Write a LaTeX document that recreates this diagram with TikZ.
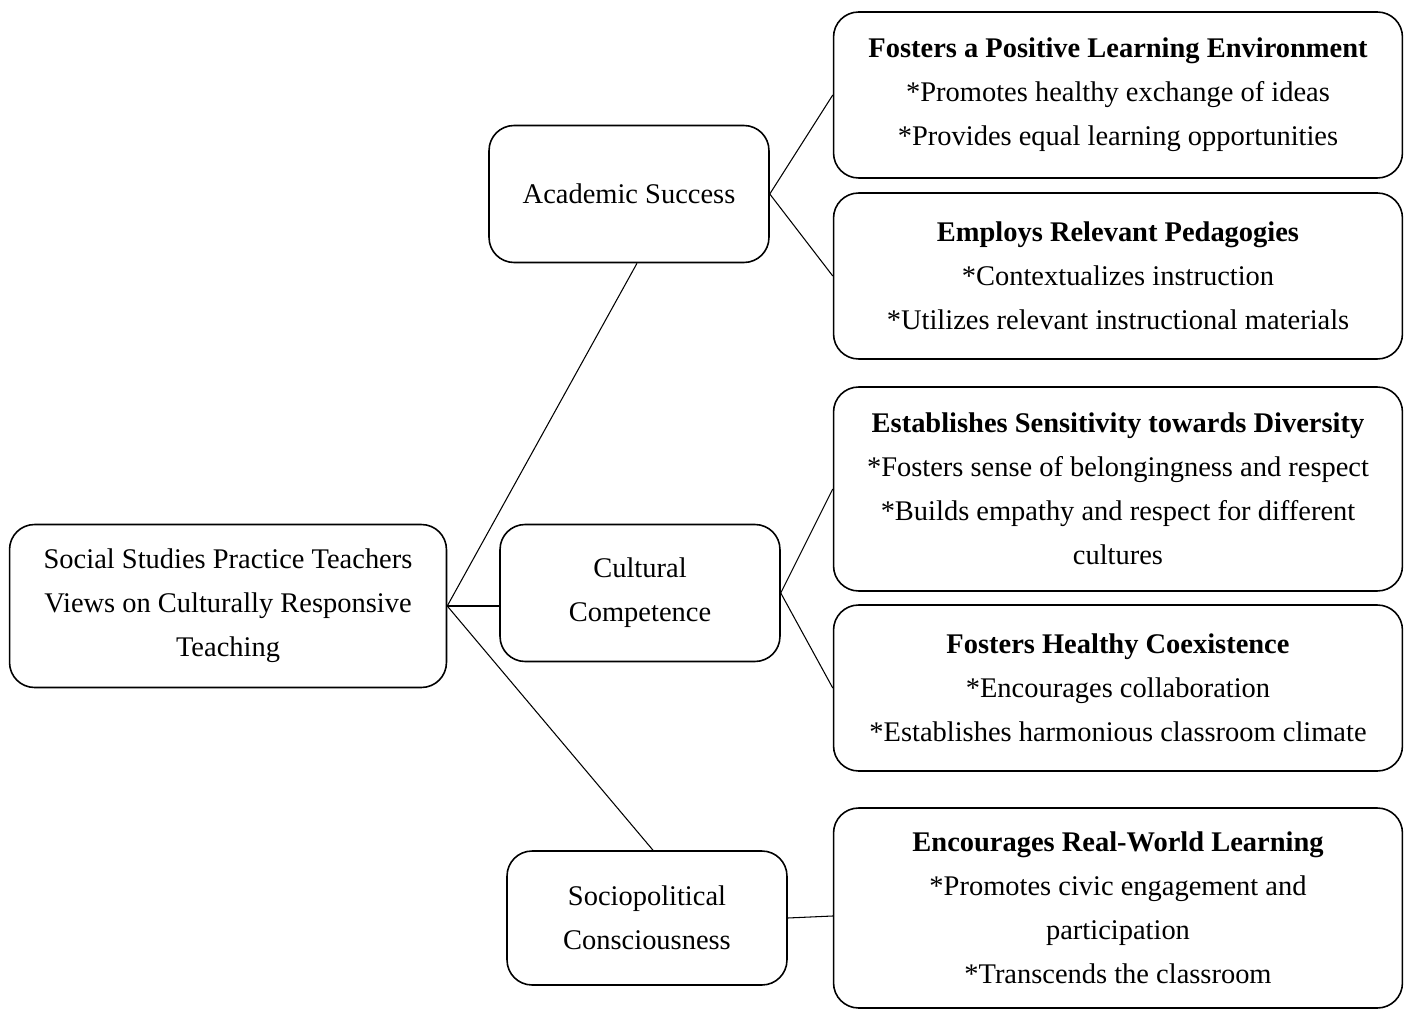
\documentclass[tikz,border=0pt]{standalone}
\usepackage{fontspec}
\setmainfont{Liberation Serif}

\begin{document}
\begin{tikzpicture}[x=0.02cm, y=-0.02cm,
    box/.style={draw, line width=0.9pt, rounded corners=0.5cm, align=center,
      font=\fontsize{16.2}{25}\selectfont, inner sep=0pt},
    midbox/.style={box, minimum width=5.6cm, minimum height=2.74cm},
    rightbox/.style={box, minimum width=11.38cm, minimum height=3.32cm},
    link/.style={line width=0.6pt}]
    \useasboundingbox (0,0) rectangle (1407,1010);

    % draw root node
    \node[box, minimum width=8.74cm, minimum height=3.26cm] (root) at (228,606)
      {Social Studies Practice Teachers\\Views on Culturally Responsive\\Teaching};

    % draw middle nodes
    \node[midbox] (academic) at (629,194) {Academic Success};
    \node[midbox] (cultural) at (640,593) {Cultural\\Competence};
    \node[midbox, minimum height=2.68cm] (sociopol) at (647,918) {Sociopolitical\\Consciousness};

    % draw right nodes
    \node[rightbox] (positive) at (1118,95)
      {\textbf{Fosters a Positive Learning Environment}\\*Promotes healthy exchange of ideas\\*Provides equal learning opportunities};
    \node[rightbox] (pedagogy) at (1118,276)
      {\textbf{Employs Relevant Pedagogies}\\*Contextualizes instruction\\*Utilizes relevant instructional materials};
    \node[rightbox, minimum height=4.08cm] (diversity) at (1118,489)
      {\textbf{Establishes Sensitivity towards Diversity}\\*Fosters sense of belongingness and respect\\*Builds empathy and respect for different\\cultures};
    \node[rightbox] (coexist) at (1118,688)
      {\textbf{Fosters Healthy Coexistence}\\*Encourages collaboration\\*Establishes harmonious classroom climate};
    \node[rightbox, minimum height=4.0cm] (realworld) at (1118,908)
      {\textbf{Encourages Real-World Learning}\\*Promotes civic engagement and\\participation\\*Transcends the classroom};

    % draw connectors
    \draw[link] (root.east) -- ([xshift=0.16cm]academic.south);
    \draw[link] (root.east) -- (cultural.west |- root.east);
    \draw[link] (root.east) -- ([xshift=0.12cm]sociopol.north);
    \draw[link] (academic.east) -- (positive.west);
    \draw[link] (academic.east) -- (pedagogy.west);
    \draw[link] (cultural.east) -- (diversity.west);
    \draw[link] (cultural.east) -- (coexist.west);
    \draw[link] (sociopol.east) -- ([yshift=-0.16cm]realworld.west);
  \end{tikzpicture}
\end{document}
